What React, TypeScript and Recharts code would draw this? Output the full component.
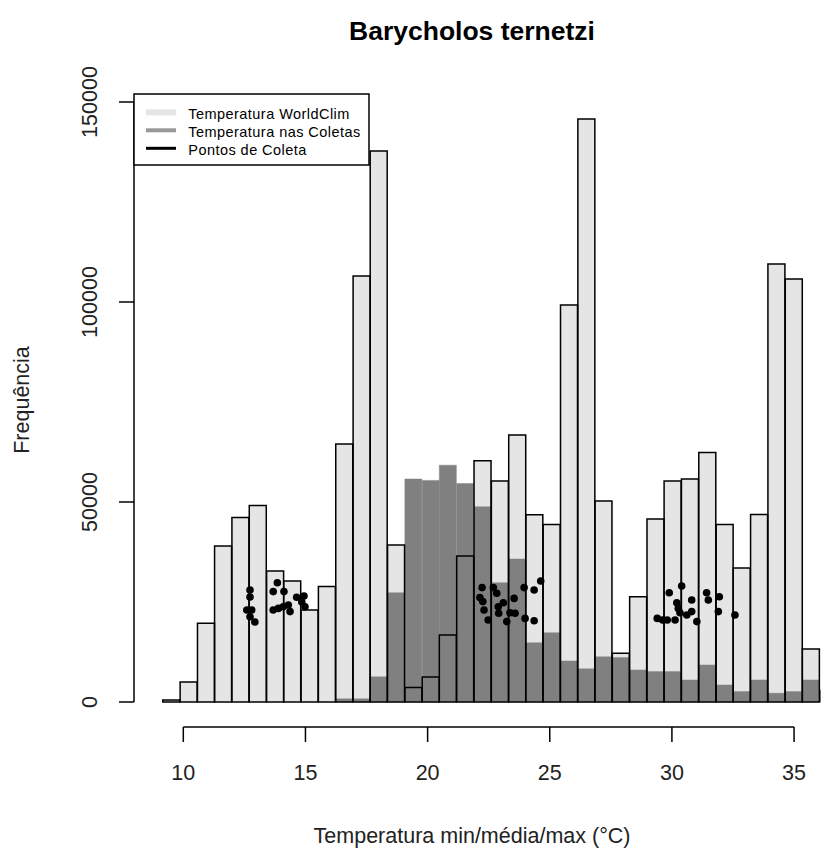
import React from 'react';
import { ComposedChart, Bar, XAxis, YAxis, Scatter, ReferenceLine } from 'recharts';

const FONT = '"Liberation Sans", Arial, Helvetica, sans-serif';

// Histogram bin midpoints (°C)
const binMids = [
  9.51, 10.22, 10.93, 11.63, 12.34, 13.05, 13.76, 14.46, 15.17, 15.88,
  16.59, 17.3, 18.0, 18.71, 19.42, 20.13, 20.83, 21.54, 22.25, 22.96,
  23.67, 24.37, 25.08, 25.79, 26.5, 27.2, 27.91, 28.62, 29.33, 30.03,
  30.74, 31.45, 32.16, 32.86, 33.57, 34.28, 34.99, 35.69, 36.4,
];

// Frequencies of the WorldClim temperatures per bin
const worldClim = [
  500, 5000, 19700, 39000, 46100, 49100, 32750, 30250, 23000, 28900,
  64500, 106500, 137750, 39250, 3600, 6250, 16750, 36500, 60300, 55250,
  66750, 46800, 44400, 99250, 145750, 50250, 12200, 26300, 45750, 55250,
  55750, 62400, 44400, 33500, 46900, 109500, 105750, 13250, 0,
];

// Frequencies of the temperatures at the collection sites per bin
const coletas = [
  0, 0, 0, 0, 0, 0, 0, 0, 0, 0,
  800, 800, 6300, 27300, 55750, 55400, 59200, 54600, 48800, 29800,
  35750, 14800, 17300, 10250, 8300, 11300, 11100, 8000, 7600, 7600,
  5500, 9250, 4250, 2600, 5500, 2200, 2600, 5500, 3000,
];

// Collection points (temperature, jittered height)
const pontosTemp = [
  12.73, 12.73, 12.6, 12.8, 12.73, 12.93, 13.85, 13.68, 14.12, 13.68,
  13.89, 14.09, 14.3, 14.37, 14.64, 14.94, 14.98, 14.85,
  22.23, 22.14, 22.26, 22.31, 22.48, 22.69, 22.83, 23.1, 22.89, 22.91,
  23.24, 23.37, 23.58, 23.54, 23.95, 24.36, 24.63, 23.99, 24.36,
  30.4, 29.89, 30.81, 30.2, 30.26, 30.33, 30.61, 30.81, 29.4, 29.62,
  29.81, 30.13, 31.02, 31.42, 31.49, 31.94, 31.9, 32.58,
];
const pontosAltura = [
  28000, 26250, 23000, 23000, 21300, 20000, 29800, 27600, 27600, 23000,
  23400, 23800, 24250, 22600, 26200, 26500, 23800, 25000,
  28600, 26100, 25100, 23000, 20500, 28600, 27200, 24800, 23800, 22200,
  20100, 22300, 22200, 25900, 28600, 28000, 30250, 20900, 20300,
  29000, 27300, 25500, 24800, 23400, 22300, 21750, 22600, 20900, 20500,
  20500, 20500, 20100, 27300, 25500, 26300, 22600, 21750,
];

const xTicks = [10, 15, 20, 25, 30, 35];
const yTicks = [0, 50000, 100000, 150000];
const xDomain: [number, number] = [7.982, 36.43];
const yDomain: [number, number] = [0, 150000];
const axisDrop = -6250; // x axis sits a little below the zero line

const bins = binMids.map((x, i) => ({ x, worldClim: worldClim[i], coletas: coletas[i] }));
const pontos = pontosTemp.map((x, i) => ({ x, y: pontosAltura[i] }));

const legendItems = [
  { label: 'Temperatura WorldClim', color: '#E5E5E5', width: 6 },
  { label: 'Temperatura nas Coletas', color: '#999999', width: 4 },
  { label: 'Pontos de Coleta', color: '#000000', width: 3 },
];

const XTick = (props: any) => {
  const { x, y, payload } = props;
  return (
    <g>
      <line x1={x} x2={x} y1={y + 25} y2={y + 40} stroke="#000" strokeWidth={1.5} />
      <text x={x} y={y + 78} textAnchor="middle" fontSize={21.5} fill="#222" fontFamily={FONT}>
        {payload.value}
      </text>
    </g>
  );
};

const YTick = (props: any) => {
  const { x, y, payload } = props;
  return (
    <text
      transform={`translate(${x - 22},${y}) rotate(-90)`}
      textAnchor="middle"
      fontSize={21.5}
      fill="#222"
      fontFamily={FONT}
    >
      {payload.value}
    </text>
  );
};

const Ponto = (props: any) => <circle cx={props.cx} cy={props.cy} r={3.8} fill="#000" />;

export default function App() {
  return (
    <div style={{ position: 'relative', width: 821, height: 846, fontFamily: FONT }}>
      <ComposedChart
        width={821}
        height={846}
        data={bins}
        margin={{ top: 94, right: 0, bottom: 0, left: 0 }}
        barCategoryGap={0}
        barGap={0}
      >
        <XAxis
          xAxisId="wc"
          dataKey="x"
          type="number"
          domain={xDomain}
          allowDataOverflow
          ticks={xTicks}
          interval={0}
          tick={<XTick />}
          tickLine={false}
          axisLine={false}
          tickSize={0}
          tickMargin={0}
          height={152}
        />
        <XAxis xAxisId="col" dataKey="x" type="number" domain={xDomain} allowDataOverflow hide height={0} />
        <XAxis xAxisId="borda" dataKey="x" type="number" domain={xDomain} allowDataOverflow hide height={0} />
        <XAxis xAxisId="pts" dataKey="x" type="number" domain={xDomain} allowDataOverflow hide height={0} />
        <YAxis
          type="number"
          domain={yDomain}
          ticks={yTicks}
          interval={0}
          width={126}
          tickSize={15}
          tickMargin={0}
          tick={<YTick />}
          axisLine={{ stroke: '#000', strokeWidth: 1.5 }}
          tickLine={{ stroke: '#000', strokeWidth: 1.5 }}
        />
        <Bar xAxisId="wc" dataKey="worldClim" fill="#E5E5E5" isAnimationActive={false} />
        <Bar
          xAxisId="col"
          dataKey="coletas"
          fill="#808080"
          stroke="#808080"
          strokeWidth={0.5}
          isAnimationActive={false}
        />
        <Bar
          xAxisId="borda"
          dataKey="worldClim"
          fill="none"
          stroke="#000"
          strokeWidth={1.5}
          isAnimationActive={false}
        />
        <Scatter xAxisId="pts" data={pontos} dataKey="y" shape={<Ponto />} isAnimationActive={false} />
        <ReferenceLine
          xAxisId="wc"
          segment={[
            { x: xTicks[0], y: axisDrop },
            { x: xTicks[xTicks.length - 1], y: axisDrop },
          ]}
          stroke="#000"
          strokeWidth={1.5}
          ifOverflow="visible"
        />
      </ComposedChart>
      <svg
        width={821}
        height={846}
        style={{ position: 'absolute', left: 0, top: 0, pointerEvents: 'none' }}
      >
        <text x={464} y={32} textAnchor="middle" fontSize={26.5} fontWeight="bold" fill="#000" fontFamily={FONT}>
          Barycholos ternetzi
        </text>
        <text x={464} y={835} textAnchor="middle" fontSize={21.5} fill="#222" fontFamily={FONT}>
          Temperatura min/média/max (°C)
        </text>
        <text
          transform="translate(20.5,392) rotate(-90)"
          textAnchor="middle"
          fontSize={21.5}
          fill="#222"
          fontFamily={FONT}
        >
          Frequência
        </text>
        <rect x={126} y={86} width={235} height={71} fill="#fff" stroke="#000" strokeWidth={1.5} />
        {legendItems.map((item, i) => (
          <g key={item.label}>
            <line
              x1={138}
              x2={168}
              y1={104.3 + i * 18}
              y2={104.3 + i * 18}
              stroke={item.color}
              strokeWidth={item.width}
            />
            <text
              x={180.3}
              y={111 + i * 18}
              fontSize={14.5}
              letterSpacing={0.45}
              fill="#000"
              fontFamily={FONT}
            >
              {item.label}
            </text>
          </g>
        ))}
      </svg>
    </div>
  );
}
